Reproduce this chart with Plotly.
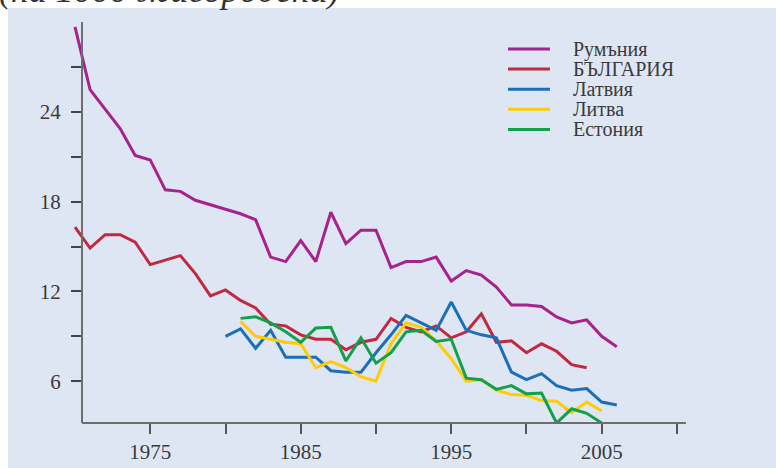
import plotly.graph_objects as go

# ---------------- data ----------------
names = ["Румъния", "БЪЛГАРИЯ", "Латвия", "Литва", "Естония"]
colors = ["#a6238d", "#c0293f", "#1b6fb8", "#ffcb05", "#12a14a"]

years_romania = list(range(1970, 2007))
romania = [29.7, 25.5, 24.2, 22.9, 21.1, 20.8, 18.8, 18.7, 18.1, 17.8,
           17.5, 17.2, 16.8, 14.3, 14.0, 15.4, 14.0, 17.3, 15.2, 16.1,
           16.1, 13.6, 14.0, 14.0, 14.3, 12.7, 13.4, 13.1, 12.3, 11.1,
           11.1, 11.0, 10.3, 9.9, 10.1, 9.0, 8.3]

years_bulgaria = list(range(1970, 2005))
bulgaria = [16.3, 14.9, 15.8, 15.8, 15.3, 13.8, 14.1, 14.4, 13.2, 11.7,
            12.1, 11.4, 10.9, 9.8, 9.7, 9.1, 8.8, 8.8, 8.1, 8.6,
            8.8, 10.2, 9.6, 9.3, 9.7, 8.9, 9.3, 10.5, 8.6, 8.7,
            7.9, 8.5, 8.0, 7.1, 6.9]

years_latvia = list(range(1980, 2007))
latvia = [9.0, 9.5, 8.2, 9.4, 7.6, 7.6, 7.6, 6.7, 6.6, 6.6,
          7.9, 9.1, 10.4, 9.9, 9.4, 11.3, 9.4, 9.1, 8.9, 6.6,
          6.1, 6.5, 5.7, 5.4, 5.5, 4.6, 4.4]

years_lithuania = list(range(1981, 2006))
lithuania = [10.0, 9.0, 8.8, 8.6, 8.5, 6.9, 7.3, 6.9, 6.3, 6.0,
             8.5, 9.9, 9.6, 8.7, 7.5, 6.0, 6.1, 5.4, 5.1, 5.05,
             4.7, 4.65, 3.9, 4.6, 4.0]

years_estonia = list(range(1981, 2006))
estonia = [10.2, 10.3, 9.9, 9.3, 8.6, 9.55, 9.6, 7.35, 8.9, 7.2,
           7.9, 9.3, 9.4, 8.65, 8.8, 6.2, 6.1, 5.45, 5.7, 5.15,
           5.2, 3.2, 4.15, 3.85, 3.2]

x_tickvals = [1975, 1980, 1985, 1990, 1995, 2000, 2005, 2010]
x_ticktext = ["1975", "", "1985", "", "1995", "", "2005", ""]
y_tickvals = [6, 9, 12, 15, 18, 21, 24, 27]
y_ticktext = ["6", "", "12", "", "18", "", "24", ""]

title_text = "(на 1000 живородени)"

# ---------------- layout geometry ----------------
W, H = 776, 468
L, R, T, B = 72, 686, 22, 423
X_RANGE = [1969.8, 2010.6]
Y_RANGE = [3.2, 30.03]
AXIS_START = 1970.47


def px(xp):
    return (xp - L) / (R - L)


def py(yp):
    return (B - yp) / (B - T)


series = [
    (years_romania, romania),
    (years_bulgaria, bulgaria),
    (years_latvia, latvia),
    (years_lithuania, lithuania),
    (years_estonia, estonia),
]

fig = go.Figure()
for (xs, ys), name, col in zip(series, names, colors):
    fig.add_trace(go.Scatter(x=xs, y=ys, mode="lines", name=name,
                             line=dict(color=col, width=3),
                             showlegend=False))

panel = "#dfe6f3"
FONT = "Liberation Serif"

shapes = [
    dict(type="rect", xref="paper", yref="paper",
         x0=px(8), x1=px(W + 5), y0=py(H + 5), y1=py(8),
         fillcolor=panel, line=dict(width=0), layer="below"),
    dict(type="line", xref="x", yref="paper",
         x0=AXIS_START, x1=X_RANGE[1], y0=0, y1=0,
         line=dict(color="#6e6e6e", width=2)),
]

annotations = [
    dict(text=title_text, xref="paper", yref="paper",
         x=px(-3), y=py(12), xanchor="left", yanchor="bottom",
         showarrow=False,
         font=dict(family=FONT, size=36, color="#333333", style="italic")),
]

row0, dy = 49, 20.1
for i, (name, col) in enumerate(zip(names, colors)):
    yy = row0 + i * dy
    shapes.append(dict(type="line", xref="paper", yref="paper",
                       x0=px(508), x1=px(550), y0=py(yy), y1=py(yy),
                       line=dict(color=col, width=3)))
    annotations.append(dict(text=name, xref="paper", yref="paper",
                            x=px(571), y=py(yy), xanchor="left",
                            yanchor="middle", showarrow=False,
                            font=dict(family=FONT, size=20, color="#3a3a3a")))

fig.update_layout(
    width=W, height=H,
    margin=dict(l=L, r=W - R, t=T, b=H - B, pad=0, autoexpand=False),
    paper_bgcolor="white",
    plot_bgcolor=panel,
    showlegend=False,
    shapes=shapes,
    annotations=annotations,
    font=dict(family=FONT, color="#3a3a3a", size=21),
    xaxis=dict(range=X_RANGE, showgrid=False, zeroline=False,
               automargin=False,
               showline=False, ticks="outside", ticklen=10, tickwidth=1.5,
               tickcolor="#555555", tickvals=x_tickvals, ticktext=x_ticktext,
               tickfont=dict(family=FONT, size=21, color="#3a3a3a")),
    yaxis=dict(range=Y_RANGE, showgrid=False, zeroline=False,
               automargin=False,
               showline=True, linecolor="#6e6e6e", linewidth=2,
               anchor="free", position=px(82),
               ticks="outside", ticklen=10, tickwidth=1.5,
               tickcolor="#444444", tickvals=y_tickvals, ticktext=y_ticktext,
               ticklabelstandoff=6,
               tickfont=dict(family=FONT, size=21, color="#3a3a3a")),
)

fig.write_html(
    "out.html",
    config={"displayModeBar": False},
    post_script="document.body.style.margin='0';document.body.style.overflow='hidden';",
)
